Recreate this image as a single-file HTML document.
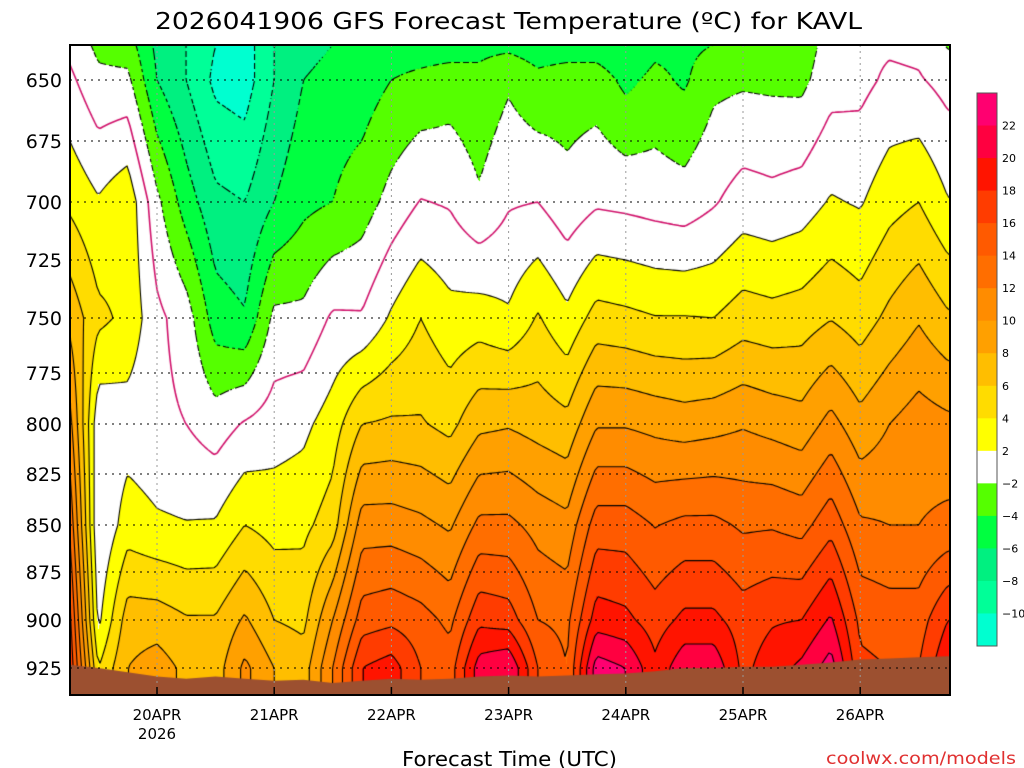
<!DOCTYPE html>
<html><head><meta charset="utf-8"><style>
html,body{margin:0;padding:0;background:#fff;width:1024px;height:768px;overflow:hidden}
#wrap{position:relative;width:1024px;height:768px}
canvas,svg{position:absolute;left:0;top:0}
</style></head><body>
<div id="wrap">
<canvas id="cv" width="1024" height="768"></canvas>
<svg id="ov" width="1024" height="768" font-family="DejaVu Sans, Liberation Sans, sans-serif"></svg>
</div>
<script>
// ---- data ----
const levels = [636,650,700,750,800,850,900,925,939];
const dayLabels = ["20APR","21APR","22APR","23APR","24APR","25APR","26APR"];
const yTicks = [650,675,700,725,750,775,800,825,850,875,900,925];
const cbLevels = [22,20,18,16,14,12,10,8,6,4,2,-2,-4,-6,-8,-10];
const t636 = [-0.5,-2.5,-3,-6.5,-8,-10,-11,-8,-7,-6,-6,-5,-5,-5,-4.5,-4.5,-5,-5,-5,-5.5,-4.5,-4.5,-4,-2.7,-3,-3,-1.2,-0.5,-0.3,-0.5,-2.2];
const t650 = [0.5,-1.5,-1.5,-6,-8,-10.5,-11,-8,-6,-5,-5,-4,-3.5,-3,-3.5,-2.3,-3.5,-3,-3,-4.5,-3.5,-4.3,-2.5,-2.3,-2.4,-2.5,-0.8,-0.6,0.4,0.2,-0.7];
const t700 = [3.6,2.2,3.5,-1.5,-5,-7.5,-8,-6,-4.5,-4,-3,-1.3,0.1,-0.2,-1.7,-0.2,0,-1.3,-0.3,-0.5,-0.8,-1.1,-0.2,0.9,0.6,1,2.2,1.8,3.3,4,2.1];
const t750 = [7.5,4.5,3.5,0.5,-1,-5,-5.8,-1.5,-1.5,0.3,0.2,2.3,4,2.7,3,2.3,4.2,2.5,4.8,4.5,4.1,4.1,4,5,4.7,5,5.9,5,6.5,7.8,6.3];
const t800 = [11,0.5,1,0.5,0,-1,0.2,1,1.5,3,6,6.3,6.2,5.4,7.5,7.8,7.2,6.6,9.8,9.8,9.4,9,9.3,9.8,9.3,8.8,10.7,8.7,10,11,10.5];
const t850 = [14,0,3,2.3,2.1,2.2,4,3.3,3.5,5,11,11,10.5,9.7,12.5,12.5,11.3,10.6,15,15,13.9,14.5,14.5,13.7,13.8,13.3,15.3,12.3,12,12,12.5];
const t900 = [17,1.5,7,7,6.2,6.2,8.3,6,5.5,10,15,15.5,14.8,13.5,17.5,17,14,13.5,19,18.5,17,18.5,18.5,17,17.8,18,20.3,15.5,15,15,18];
const t925 = [18,4,8,9,7.5,7,10.5,8,7,12,18,19,16,15,21,22,16,14,23,22,18.5,21.5,21.5,17.5,19,20.5,23,16.5,16,16,20];
const t939 = [18,4,8,9,7.5,7,10.5,8,7,12,18,19,16,15,21,22,16,14,23,22,18.5,21.5,21.5,17.5,19,20.5,23,16.5,16,16,20];
const sfcP = [923.3,925,927.2,929.4,930.6,929.4,930.6,931.7,931.1,932.8,931.7,930.6,931.1,930.6,929.4,928.9,929.4,928.9,928.3,927.8,926.7,925,925,924.4,924.4,923.3,922.2,920.6,920,919.4,918.9];
const rows = [t636,t650,t700,t750,t800,t850,t900,t925,t939];

// ---- geometry ----
const PX0=70,PX1=950,PY0=45,PY1=695;
const tickP=[650,675,700,725,750,775,800,825,850,875,900,925];
const tickY=[80,141,202,260,318,373,424,474,525,572,620,668];
function pToY(p){
  if(p<=tickP[0]) return tickY[0]-(tickP[0]-p)*2.5;
  for(let i=0;i<tickP.length-1;i++) if(p<=tickP[i+1]) return tickY[i]+(p-tickP[i])/(tickP[i+1]-tickP[i])*(tickY[i+1]-tickY[i]);
  return tickY[11]+(p-925)*1.92;
}
const colX0=69, colDX=29.3;
const dayX=d=>157+d*117.2;
const levY=levels.map(pToY);
const NC=t636.length;
function T(x,y){
  let u=(x-colX0)/colDX; u=Math.max(0,Math.min(NC-1.0001,u));
  const i=Math.floor(u), fu=u-i;
  let j=0; if(y<=levY[0]) j=0; else { while(j<levY.length-2 && y>levY[j+1]) j++; }
  let fv=(y-levY[j])/(levY[j+1]-levY[j]); fv=Math.max(0,Math.min(1,fv));
  const a=rows[j][i]*(1-fu)+rows[j][i+1]*fu, b=rows[j+1][i]*(1-fu)+rows[j+1][i+1]*fu;
  return a*(1-fv)+b*fv;
}
const binCols=[[0,255,208],[0,255,152],[0,240,128],[0,255,64],[85,255,0],[255,255,255],[255,255,0],[255,220,0],[255,190,0],[255,160,0],[255,140,0],[255,110,0],[255,90,0],[255,60,0],[255,20,0],[255,0,64],[255,0,112]];
const binEdges=[-10,-8,-6,-4,-2,2,4,6,8,10,12,14,16,18,20,22];
function colIdx(t){let k=0;while(k<binEdges.length&&t>=binEdges[k])k++;return k;}

// ---- fill ----
const cv=document.getElementById('cv'),ctx=cv.getContext('2d');
const W=PX1-PX0,H=PY1-PY0;
const img=ctx.createImageData(W,H);
for(let yy=0;yy<H;yy++)for(let xx=0;xx<W;xx++){
  const c=binCols[colIdx(T(PX0+xx+0.5,PY0+yy+0.5))],o=(yy*W+xx)*4;
  img.data[o]=c[0];img.data[o+1]=c[1];img.data[o+2]=c[2];img.data[o+3]=255;
}
ctx.putImageData(img,PX0,PY0);

// ---- contours (marching squares) ----
const S=3, gx=Math.ceil(W/S)+1, gy=Math.ceil(H/S)+1;
const G=[];for(let j=0;j<gy;j++){G.push([]);for(let i=0;i<gx;i++)G[j].push(T(PX0+i*S,PY0+j*S));}
const cLevels=[-12,-10,-8,-6,-4,-2,0,2,4,6,8,10,12,14,16,18,20,22];
ctx.save();ctx.beginPath();ctx.rect(PX0,PY0,W,H);ctx.clip();
cLevels.forEach(L=>{
  ctx.beginPath();
  ctx.strokeStyle=L===0?'#d0106a':'#000';ctx.lineWidth=L===0?1.6:1.1;
  for(let j=0;j<gy-1;j++)for(let i=0;i<gx-1;i++){
    const v=[G[j][i],G[j][i+1],G[j+1][i+1],G[j+1][i]];
    const p=[[i,j],[i+1,j],[i+1,j+1],[i,j+1]];
    const pts=[];
    for(let e=0;e<4;e++){const a=v[e],b=v[(e+1)%4];
      if((a<L)!==(b<L)){const f=(L-a)/(b-a);pts.push([PX0+(p[e][0]+f*(p[(e+1)%4][0]-p[e][0]))*S,PY0+(p[e][1]+f*(p[(e+1)%4][1]-p[e][1]))*S]);}}
    for(let k=0;k+1<pts.length;k+=2){ if(L<0 && ((i+j)%3===0)) continue; ctx.moveTo(pts[k][0],pts[k][1]);ctx.lineTo(pts[k+1][0],pts[k+1][1]);}
  }
  ctx.stroke();
});
ctx.beginPath();ctx.moveTo(PX0,PY1);
sfcP.forEach((p,i)=>ctx.lineTo(colX0+i*colDX,pToY(p)));
ctx.lineTo(PX1,pToY(sfcP[NC-1]));ctx.lineTo(PX1,PY1);ctx.closePath();
ctx.fillStyle='#9c5030';ctx.fill();
ctx.restore();

// ---- overlay ----
const NS='http://www.w3.org/2000/svg',ov=document.getElementById('ov');
function mk(tag,attrs,txt){const e=document.createElementNS(NS,tag);for(const k in attrs)e.setAttribute(k,attrs[k]);if(txt!==undefined)e.textContent=txt;ov.appendChild(e);return e;}
yTicks.forEach(p=>{const y=pToY(p);
  const g=mk('line',{x1:PX0,x2:PX1,y1:y,y2:y,stroke:'#000','stroke-width':1,'stroke-dasharray':'2,5'});
  
  
  const t=mk('text',{x:62,y:y+7,'text-anchor':'end','font-size':19,fill:'#000'},String(p));
  
  
});
dayLabels.forEach((d,i)=>{const x=dayX(i);
  const g=mk('line',{x1:x,x2:x,y1:PY0,y2:PY1,stroke:'#999','stroke-width':1,'stroke-dasharray':'2,4'});
  
  
  const tk=mk('line',{x1:x,x2:x,y1:PY1,y2:PY1-8,stroke:'#000','stroke-width':1.5});
  
  
  const t=mk('text',{x:x,y:720,'text-anchor':'middle','font-size':15,fill:'#000'},d);
  
  
});
const yr=mk('text',{x:dayX(0),y:739,'text-anchor':'middle','font-size':15,fill:'#000'},'2026');


const fr=mk('rect',{x:PX0,y:PY0,width:W,height:H,fill:'none',stroke:'#000','stroke-width':2});


const ti=mk('text',{x:155,y:29,'font-size':23,fill:'#000',textLength:707,lengthAdjust:'spacingAndGlyphs'},'2026041906 GFS Forecast Temperature (ºC) for KAVL');


const xt=mk('text',{x:402,y:766,'font-size':20,fill:'#000',textLength:215,lengthAdjust:'spacingAndGlyphs'},'Forecast Time (UTC)');


const cr=mk('text',{x:826,y:764,'font-size':17,fill:'#e03030',textLength:190,lengthAdjust:'spacingAndGlyphs'},'coolwx.com/models');


const CB0=93,CB1=646,nb=binCols.length,bh=(CB1-CB0)/nb;
for(let k=0;k<nb;k++){const c=binCols[nb-1-k];
  const r=mk('rect',{x:977,y:CB0+k*bh,width:20,height:bh+0.5,fill:`rgb(${c[0]},${c[1]},${c[2]})`});
  
  
}
const cbf=mk('rect',{x:977,y:CB0,width:20,height:CB1-CB0,fill:'none',stroke:'#555','stroke-width':1});


cbLevels.forEach((v,k)=>{const y=CB0+(k+1)*bh;
  const t=mk('text',{x:1002,y:y+4,'font-size':11,fill:'#000'},v<0?'\u2212'+(-v):String(v));
  
  
});
</script>
</body></html>
